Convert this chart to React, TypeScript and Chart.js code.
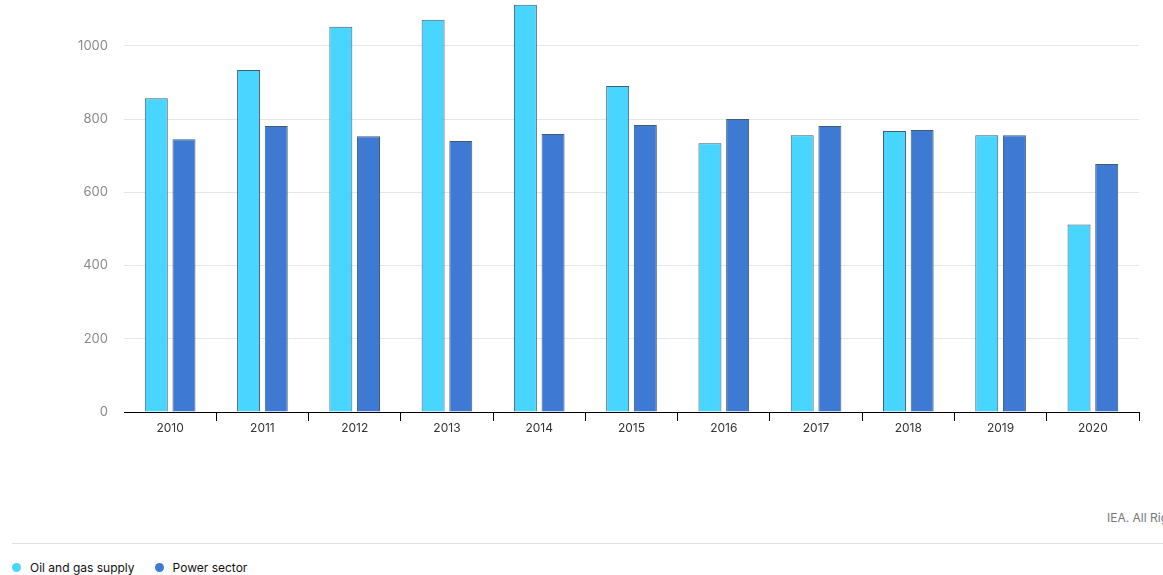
import React, { useEffect, useRef } from "react";
import { Chart, registerables } from "chart.js";

Chart.register(...registerables);

const years = ["2010", "2011", "2012", "2013", "2014", "2015", "2016", "2017", "2018", "2019", "2020"];
const oilAndGas = [857, 934, 1052, 1071, 1112, 890, 734, 756, 767, 756, 512];
const powerSector = [745, 781, 753, 740, 759, 784, 800, 781, 770, 756, 677];
const seriesNames = ["Oil and gas supply", "Power sector"];
const seriesColors = ["#48D5FF", "#3E7AD3"];
const yTickStep = 200;
const yMax = 1125;

const FONT = "Inter, 'Noto Sans', sans-serif";

export default function App() {
  const ref = useRef<HTMLCanvasElement | null>(null);

  useEffect(() => {
    document.body.style.margin = "0";
    const canvas = ref.current;
    if (!canvas) return;
    const chart = new Chart(canvas, {
      type: "bar",
      data: {
        labels: years,
        datasets: [
          {
            label: seriesNames[0],
            data: oilAndGas,
            backgroundColor: seriesColors[0],
            borderColor: "#3f5d6e",
            borderWidth: 1,
          },
          {
            label: seriesNames[1],
            data: powerSector,
            backgroundColor: seriesColors[1],
            borderColor: "#3f5d6e",
            borderWidth: 1,
          },
        ],
      },
      options: {
        animation: false,
        responsive: false,
        maintainAspectRatio: false,
        datasets: { bar: { categoryPercentage: 0.6, barPercentage: 0.83 } },
        layout: { padding: { left: 0, right: 24, top: 0, bottom: 0 } },
        plugins: { legend: { display: false }, tooltip: { enabled: false } },
        scales: {
          x: {
            grid: {
              offset: true,
              drawOnChartArea: false,
              drawTicks: true,
              tickLength: 9,
              color: (ctx: any) => (ctx.index === 0 ? "rgba(0,0,0,0)" : "#000"),
            },
            border: { display: true, color: "#000", width: 1 },
            ticks: { color: "#333", font: { family: FONT, size: 12 }, padding: 0, maxRotation: 0 },
            afterFit: (scale: any) => {
              scale.height = 39;
              scale.paddingLeft = 0;
              scale.paddingRight = 0;
            },
          },
          y: {
            min: 0,
            max: yMax,
            afterBuildTicks: (scale: any) => {
              scale.ticks = scale.ticks.filter((t: any) => t.value % yTickStep === 0);
            },
            grid: { color: "#e6e6e6", drawTicks: false },
            border: { display: false },
            ticks: {
              stepSize: yTickStep,
              color: "#8a8a8a",
              padding: 16,
              font: { family: FONT, size: 13 },
              callback: (v: any) => String(v),
            },
            afterFit: (scale: any) => {
              scale.width = 124;
              scale.paddingTop = 0;
              scale.paddingBottom = 0;
            },
          },
        },
      },
    });
    return () => chart.destroy();
  }, []);

  return (
    <div style={{ position: "relative", width: 1163, height: 575, overflow: "hidden", fontFamily: FONT }}>
      <canvas ref={ref} width={1163} height={451} style={{ position: "absolute", left: 0, top: 0 }} />
      <div
        style={{
          position: "absolute",
          left: 1107,
          top: 510,
          fontSize: 12,
          color: "#777",
          whiteSpace: "nowrap",
        }}
      >
        IEA. All Rights Reserved
      </div>
      <div style={{ position: "absolute", left: 12, right: 0, top: 543, height: 1, background: "#e2e2e2" }} />
      <div style={{ position: "absolute", left: 12, top: 560, display: "flex", alignItems: "center", fontSize: 12, color: "#111" }}>
        {seriesNames.map((n, i) => (
          <div key={n} style={{ display: "flex", alignItems: "center", marginRight: 20 }}>
            <span
              style={{
                width: 9,
                height: 9,
                borderRadius: "50%",
                background: seriesColors[i],
                display: "inline-block",
                marginRight: 9,
              }}
            />
            <span>{n}</span>
          </div>
        ))}
      </div>
    </div>
  );
}
